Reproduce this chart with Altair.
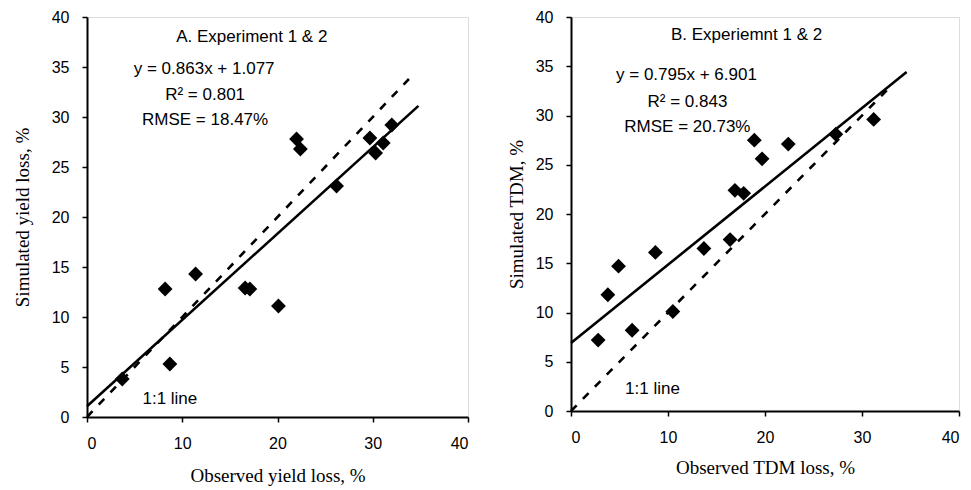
import altair as alt
import pandas as pd

# Panel A: observed vs simulated yield loss (%)
obs_a = [3.7, 8.7, 8.2, 11.4, 16.6, 17.1, 20.1, 22.0, 22.4, 26.2, 29.7, 30.3, 31.1, 32.0]
sim_a = [3.8, 5.3, 12.8, 14.3, 12.9, 12.8, 11.1, 27.8, 26.8, 23.1, 27.9, 26.4, 27.4, 29.2]
slope_a, icpt_a = 0.863, 1.077
fit_x_a = [0.0, 34.8]
one_x_a = [0.0, 33.8]

# Panel B: observed TDM loss vs simulated TDM (%)
obs_b = [2.8, 3.8, 4.9, 6.3, 8.7, 10.5, 13.7, 16.4, 16.9, 17.8, 18.9, 19.7, 22.4, 27.3, 31.2]
sim_b = [7.2, 11.8, 14.7, 8.2, 16.1, 10.1, 16.5, 17.4, 22.4, 22.1, 27.5, 25.6, 27.1, 28.1, 29.6]
slope_b, icpt_b = 0.795, 6.901
fit_x_b = [0.0, 34.6]
one_x_b = [0.0, 33.0]

ann_a = ["A. Experiment 1 & 2", "y = 0.863x + 1.077", "R² = 0.801", "RMSE = 18.47%", "1:1 line"]
ann_a_x = [17.3, 12.3, 12.4, 12.4, 8.7]
ann_a_y = [38.0, 34.8, 32.2, 29.7, 1.8]
ann_b = ["B. Experiemnt 1 & 2", "y = 0.795x + 6.901", "R² = 0.843", "RMSE = 20.73%", "1:1 line"]
ann_b_x = [18.1, 11.9, 12.0, 12.0, 8.4]
ann_b_y = [38.2, 34.1, 31.4, 28.8, 2.2]

x_ticks = [0, 10, 20, 30, 40]
y_ticks = [0, 5, 10, 15, 20, 25, 30, 35, 40]

SANS = "Liberation Sans"
SERIF = "Liberation Serif"


def panel(obs, sim, slope, icpt, fit_x, one_x, ann, ann_x, ann_y, xtitle, ytitle, w, h, ytp, xtp):
    xs = alt.Scale(domain=[0, 40], nice=False)
    ys = alt.Scale(domain=[0, 40], nice=False)
    xax = alt.Axis(values=x_ticks, title=xtitle, grid=False, tickSize=5, labelPadding=13,
                   titlePadding=xtp, domainWidth=2, domainColor="black", tickColor="black",
                   tickWidth=1.5, labelFont=SANS, labelFontSize=16, labelColor="black",
                   titleFont=SERIF, titleFontSize=19, titleFontWeight="normal", titleColor="black")
    yax = alt.Axis(values=y_ticks, title=ytitle, grid=False, tickSize=5, labelPadding=13,
                   titlePadding=ytp, domainWidth=2, domainColor="black", tickColor="black",
                   tickWidth=1.5, labelFont=SANS, labelFontSize=16, labelColor="black",
                   titleFont=SERIF, titleFontSize=19, titleFontWeight="normal", titleColor="black")

    pts = pd.DataFrame({"obs": obs, "sim": sim})
    fit = pd.DataFrame({"obs": fit_x, "sim": [slope * v + icpt for v in fit_x]})
    one = pd.DataFrame({"obs": one_x, "sim": one_x})
    txt = pd.DataFrame({"t": ann, "x": ann_x, "y": ann_y})

    base_x = alt.X("obs:Q", scale=xs, axis=xax)
    base_y = alt.Y("sim:Q", scale=ys, axis=yax)

    l_one = alt.Chart(one).mark_line(color="black", strokeWidth=2.6, strokeDash=[8, 9]).encode(
        x=base_x, y=base_y)
    l_fit = alt.Chart(fit).mark_line(color="black", strokeWidth=2.6).encode(x=base_x, y=base_y)
    p = alt.Chart(pts).mark_point(shape="diamond", filled=True, color="black", size=220, opacity=1).encode(
        x=base_x, y=base_y)
    t = alt.Chart(txt).mark_text(font=SANS, fontSize=17, color="black").encode(
        x=alt.X("x:Q", scale=xs), y=alt.Y("y:Q", scale=ys), text="t:N")
    return alt.layer(l_one, l_fit, p, t).properties(width=w, height=h)


a = panel(obs_a, sim_a, slope_a, icpt_a, fit_x_a, one_x_a, ann_a, ann_a_x, ann_a_y,
          "Observed yield loss, %", "Simulated yield loss, %", 381, 400, 19, 15)
b = panel(obs_b, sim_b, slope_b, icpt_b, fit_x_b, one_x_b, ann_b, ann_b_x, ann_b_y,
          "Observed TDM loss, %", "Simulated TDM, %", 388, 394, 9, 13)

chart = alt.hconcat(a, b, spacing=36).properties(
    padding={"left": 4, "top": 0, "right": 0, "bottom": 0}
).configure_view(stroke="black", strokeWidth=1.5).configure(background="white")

chart.save("out.html", embed_options={"renderer": "svg", "actions": False})
